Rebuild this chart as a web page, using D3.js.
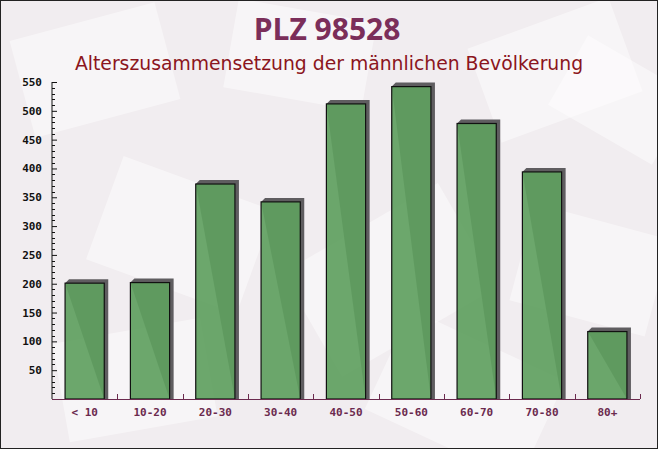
<!DOCTYPE html>
<html><head><meta charset="utf-8">
<script src="https://cdn.jsdelivr.net/npm/d3@7"></script>
<style>html,body{margin:0;padding:0;background:#fff}svg{display:block}</style>
</head><body>
<script>
const categories = ["< 10","10-20","20-30","30-40","40-50","50-60","60-70","70-80","80+"];
const values = [201, 202, 373, 342, 512, 542, 478, 394, 117];
const yTicks = [50,100,150,200,250,300,350,400,450,500,550];
const titleText = "PLZ 98528";
const subtitleText = "Alterszusammensetzung der männlichen Bevölkerung";

const W = 658, H = 449;
const svg = d3.select("body").append("svg").attr("width", W).attr("height", H);

// background
svg.append("rect").attr("x",0).attr("y",0).attr("width",W).attr("height",H).attr("fill","#f1edf0");
const deco = [[20,20,150,100,-15],[230,10,140,90,10],[480,20,150,100,-20],[100,180,160,110,20],[300,220,180,120,-30],[520,220,140,100,15],[60,330,150,100,-10],[380,340,170,110,25],[560,60,120,80,30]];
svg.append("g").selectAll("rect").data(deco).join("rect")
  .attr("x",d=>d[0]).attr("y",d=>d[1]).attr("width",d=>d[2]).attr("height",d=>d[3])
  .attr("transform",d=>`rotate(${d[4]},${d[0]+d[2]/2},${d[1]+d[3]/2})`)
  .attr("fill","#ffffff").attr("opacity",0.45);

svg.append("text").attr("x",327).attr("y",40).attr("text-anchor","middle")
  .attr("font-family","'Open Sans', 'DejaVu Sans', sans-serif").attr("font-weight","bold")
  .attr("font-size",30).attr("fill","#7b2e5a").text(titleText);
svg.append("text").attr("x",329).attr("y",70).attr("text-anchor","middle")
  .attr("font-family","'DejaVu Sans', sans-serif")
  .attr("font-size",18.8).attr("fill","#8b1520").text(subtitleText);

const x0 = 52, x1 = 640, yTop = 82, yBot = 399;
const x = d3.scaleBand().domain(categories).range([x0, x1]).paddingInner(0.4).paddingOuter(0.2);
const y = d3.scaleLinear().domain([0, 550]).range([yBot, yTop]);

// bars: shadow then bar
const g = svg.append("g");
const off = 4;
g.selectAll("path.sh").data(categories).join("path").attr("class","sh")
  .attr("d",(c,i)=>{
    const bx = x(c), bw = x.bandwidth(), by = y(values[i]);
    return `M${bx},${by} L${bx+off},${by-off} L${bx+bw+off},${by-off} L${bx+bw+off},${yBot} L${bx+bw},${yBot} Z`;
  })
  .attr("fill","#5f5d60");
g.selectAll("rect.bar").data(categories).join("rect").attr("class","bar")
  .attr("x",c=>x(c)).attr("y",(c,i)=>y(values[i]))
  .attr("width",x.bandwidth()).attr("height",(c,i)=>yBot - y(values[i]))
  .attr("fill","#5f9f5f").attr("fill-opacity",0.92)
  .attr("stroke","#111").attr("stroke-width",1.2);

// y axis
const yAxis = d3.axisRight(y).tickValues(yTicks).tickSize(5).tickFormat("");
const ya = svg.append("g").attr("transform",`translate(${x0},0)`).call(yAxis);
ya.select(".domain").attr("d",`M0,${yTop}H0V${yBot}`).attr("stroke","#111");
ya.selectAll(".tick line").attr("stroke","#111");
const minor = d3.range(10, 550, 10).filter(v=>v%50!==0);
svg.append("g").selectAll("line").data(minor).join("line")
  .attr("x1",x0).attr("x2",x0+3).attr("y1",d=>Math.round(y(d))+0.5).attr("y2",d=>Math.round(y(d))+0.5)
  .attr("stroke","#111");
svg.append("g").selectAll("text").data(yTicks).join("text")
  .attr("x",42).attr("y",d=>y(d)+4).attr("text-anchor","end")
  .attr("font-family","'DejaVu Sans Mono', monospace").attr("font-weight","bold")
  .attr("font-size",11).attr("fill","#111").text(d=>d);

// x axis
svg.append("line").attr("x1",x0).attr("x2",x1).attr("y1",yBot+0.5).attr("y2",yBot+0.5).attr("stroke","#6b2a4e");
const bounds = categories.slice(1).map(c => x(c) - x.step()*x.paddingInner()/2);
bounds.push(x1);
svg.append("g").selectAll("line").data(bounds).join("line")
  .attr("x1",d=>Math.round(d)+0.5).attr("x2",d=>Math.round(d)+0.5).attr("y1",yBot).attr("y2",yBot-5)
  .attr("stroke","#6b2a4e");
svg.append("g").selectAll("text").data(categories).join("text")
  .attr("x",c=>x(c)+x.bandwidth()/2).attr("y",416).attr("text-anchor","middle")
  .attr("font-family","'DejaVu Sans Mono', monospace").attr("font-weight","bold")
  .attr("font-size",11).attr("fill","#6b2a4e").text(c=>c);

// border
svg.append("rect").attr("x",0.5).attr("y",0.5).attr("width",W-1).attr("height",H-1)
  .attr("fill","none").attr("stroke","#222");
</script>
</body></html>
